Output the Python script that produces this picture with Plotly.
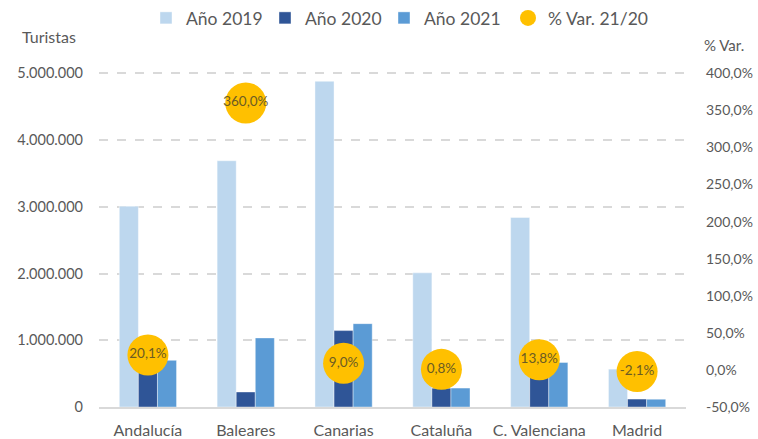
import plotly.graph_objects as go

# Tourist arrivals by region and year-on-year change 2021 vs 2020
regiones = ["Andalucía", "Baleares", "Canarias", "Cataluña", "C. Valenciana", "Madrid"]
turistas_2019 = [3010000, 3690000, 4880000, 2010000, 2840000, 567000]
turistas_2020 = [583000, 225000, 1145000, 282000, 586000, 119000]
turistas_2021 = [700000, 1035000, 1249000, 284000, 667000, 116500]
var_21_20 = [20.1, 360.0, 9.0, 0.8, 13.8, -2.1]

ticks_turistas = [0, 1000000, 2000000, 3000000, 4000000, 5000000]
ticks_var = [-50, 0, 50, 100, 150, 200, 250, 300, 350, 400]


def pct(v):
    return f"{v:.1f}".replace(".", ",") + "%"


etiquetas_var = [pct(v) for v in var_21_20]

FONT = "Source Sans Pro, Lato, sans-serif"
GRIS = "#595959"
BORDE = "rgba(255,255,255,0.5)"

fig = go.Figure()
fig.add_trace(go.Bar(name="Año 2019", x=regiones, y=turistas_2019,
                     marker=dict(color="#bdd7ee", line=dict(width=0.8, color=BORDE))))
fig.add_trace(go.Bar(name="Año 2020", x=regiones, y=turistas_2020,
                     marker=dict(color="#2f5597", line=dict(width=0.8, color=BORDE))))
fig.add_trace(go.Bar(name="Año 2021", x=regiones, y=turistas_2021,
                     marker=dict(color="#5b9bd5", line=dict(width=0.8, color=BORDE))))
fig.add_trace(go.Scatter(name="% Var. 21/20", x=regiones, y=var_21_20, yaxis="y2",
                         legend="legend2",
                         mode="markers+text", text=etiquetas_var,
                         textposition="middle center",
                         textfont=dict(family=FONT, size=13.5, color="#6b5b24"),
                         marker=dict(size=41, color="#ffc000")))

legend_font = dict(family=FONT, size=17.5, color=GRIS)

fig.update_layout(
    width=758, height=439,
    margin=dict(l=99, r=72, t=72, b=32, autoexpand=False),
    paper_bgcolor="white", plot_bgcolor="white",
    separators=",.",
    font=dict(family=FONT, color=GRIS, size=14),
    barmode="group", bargap=0.415, bargroupgap=0,
    showlegend=True,
    legend=dict(orientation="h", xref="container", yref="container",
                x=146 / 758, xanchor="left", y=1.0, yanchor="top",
                font=legend_font, itemwidth=30, entrywidth=74,
                entrywidthmode="pixels", tracegroupgap=0),
    legend2=dict(orientation="h", xref="container", yref="container",
                 x=508 / 758, xanchor="left", y=1.0, yanchor="top",
                 font=legend_font, itemwidth=30),
    xaxis=dict(range=[-0.5, 5.5], showline=True, linecolor="#d9d9d9", linewidth=2,
               automargin=False, ticks="", tickfont=dict(size=16, color=GRIS),
               ticklabelstandoff=8),
    yaxis=dict(range=[0, 5020000], tickvals=ticks_turistas, automargin=False,
               tickformat=",d", showgrid=True, gridcolor="#d9d9d9", gridwidth=2,
               griddash="dash", zeroline=False, ticks="",
               tickfont=dict(size=14.5, color=GRIS), ticklabelstandoff=15),
    yaxis2=dict(overlaying="y", side="right", range=[-50, 401.8], automargin=False,
                tickvals=ticks_var, ticktext=[pct(v) for v in ticks_var],
                showgrid=False, zeroline=False,
                ticks="", tickfont=dict(size=14, color=GRIS), ticklabelstandoff=19),
    annotations=[
        dict(text="Turistas", xref="paper", yref="paper", x=-0.135, y=1.105,
             xanchor="left", yanchor="middle", showarrow=False,
             font=dict(family=FONT, size=16, color=GRIS)),
        dict(text="% Var.", xref="paper", yref="paper", x=1.027, y=1.08,
             xanchor="left", yanchor="middle", showarrow=False,
             font=dict(family=FONT, size=15, color=GRIS)),
    ],
)

fig.write_html("out.html")
